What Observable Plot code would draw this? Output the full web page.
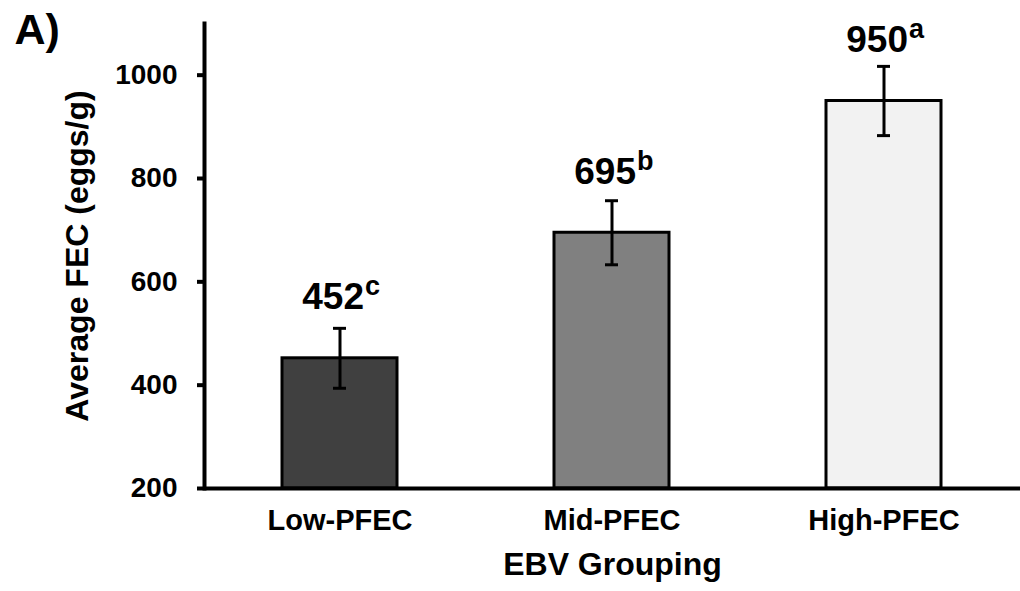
<!DOCTYPE html>
<html>
<head>
<meta charset="utf-8">
<script src="https://cdn.jsdelivr.net/npm/d3@7"></script>
<script src="https://cdn.jsdelivr.net/npm/@observablehq/plot@0.6"></script>
<style>
  html, body { margin: 0; padding: 0; background: #fff; }
  #chart svg { display: block; }
</style>
</head>
<body>
<div id="chart"></div>
<script>
const categories = ["Low-PFEC", "Mid-PFEC", "High-PFEC"];
const means = [452, 695, 950];
const errors = [58, 62, 67];
const letters = ["c", "b", "a"];
const fills = ["#404040", "#808080", "#f2f2f2"];
const yTicks = [200, 400, 600, 800, 1000];
const yDomain = [200, 1100];
const panelLabel = "A)";
const yTitle = "Average FEC (eggs/g)";
const xTitle = "EBV Grouping";

const data = categories.map((c, i) => ({
  cat: c, mean: means[i], err: errors[i], letter: letters[i], fill: fills[i]
}));

const font = "'Liberation Sans', Arial, sans-serif";

const chart = Plot.plot({
  width: 1020,
  height: 591,
  marginLeft: 204,
  marginRight: 0,
  marginTop: 23,
  marginBottom: 103,
  style: { fontFamily: font, background: "#fff", color: "#000", overflow: "visible" },
  x: { domain: categories, paddingInner: 0.577, paddingOuter: 0.2885, label: null },
  y: { domain: yDomain, label: null },
  color: { type: "identity" },
  marks: [
    Plot.barY(data, {
      x: "cat", y1: yDomain[0], y2: "mean", fill: "fill",
      stroke: "#000", strokeWidth: 3
    }),
    Plot.ruleX(data, {
      x: "cat", y1: d => d.mean - d.err, y2: d => d.mean + d.err,
      stroke: "#000", strokeWidth: 3
    }),
    Plot.tickY(data, {
      x: "cat", y: d => d.mean - d.err, stroke: "#000", strokeWidth: 3,
      insetLeft: 51, insetRight: 51
    }),
    Plot.tickY(data, {
      x: "cat", y: d => d.mean + d.err, stroke: "#000", strokeWidth: 3,
      insetLeft: 51, insetRight: 51
    }),
    Plot.text(data, {
      x: "cat", y: "mean", text: d => String(d.mean),
      textAnchor: "end", lineAnchor: "bottom", dx: 24, dy: -49,
      fontSize: 37, fontWeight: "bold", fill: "#000"
    }),
    Plot.text(data, {
      x: "cat", y: "mean", text: "letter",
      textAnchor: "start", lineAnchor: "bottom", dx: 25, dy: -63,
      fontSize: 27, fontWeight: "bold", fill: "#000"
    }),
    Plot.axisY({
      ticks: yTicks, tickSize: 7, tickPadding: 20, strokeWidth: 4,
      fontSize: 28, fontWeight: "bold", label: null, tickFormat: d => String(d)
    }),
    Plot.axisX({
      tickSize: 0, tickPadding: 21, fontSize: 29, fontWeight: "bold", label: null
    }),
    Plot.ruleY([yDomain[0]], { stroke: "#000", strokeWidth: 4 }),
    Plot.frame({ anchor: "left", stroke: "#000", strokeWidth: 4 }),
    Plot.text([yTitle], {
      text: d => d, frameAnchor: "left", rotate: -90, lineAnchor: "top",
      textAnchor: "middle", dx: -139, fontSize: 32, fontWeight: "bold", fill: "#000"
    }),
    Plot.text([xTitle], {
      text: d => d, frameAnchor: "bottom", lineAnchor: "top",
      textAnchor: "middle", dy: 64, fontSize: 32, fontWeight: "bold", fill: "#000"
    }),
    Plot.text([panelLabel], {
      text: d => d, frameAnchor: "top-left", lineAnchor: "top",
      textAnchor: "start", dx: -190, dy: -10, fontSize: 43, fontWeight: "bold", fill: "#000"
    })
  ]
});

document.getElementById("chart").appendChild(chart);
</script>
</body>
</html>
